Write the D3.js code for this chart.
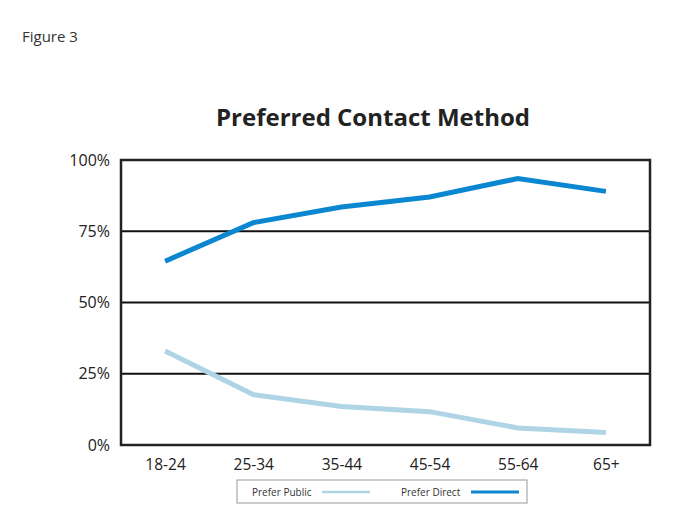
<!DOCTYPE html>
<html>
<head>
<meta charset="utf-8">
<script src="https://cdn.jsdelivr.net/npm/d3@7"></script>
<style>
  body { margin: 0; background: #fff; }
  svg { display: block; }
</style>
</head>
<body>
<svg id="chart"></svg>
<script>
// data
const ageGroups = ["18-24", "25-34", "35-44", "45-54", "55-64", "65+"];
const preferDirect = [64.5, 78, 83.5, 87, 93.5, 89];
const preferPublic = [33, 17.7, 13.5, 11.7, 6, 4.4];
const yTicks = [0, 25, 50, 75, 100];

const width = 675, height = 522;
const margin = { top: 160, right: 25, bottom: 77, left: 121 };

const svg = d3.select("#chart").attr("width", width).attr("height", height);
const font = "'Open Sans', 'DejaVu Sans', sans-serif";

const x = d3.scalePoint().domain(ageGroups)
    .range([margin.left, width - margin.right]).padding(0.5);
const y = d3.scaleLinear().domain([0, 100])
    .range([height - margin.bottom, margin.top]);

// figure label
svg.append("text")
    .attr("x", 22).attr("y", 42)
    .attr("font-family", font).attr("font-size", 15)
    .attr("fill", "#333")
    .text("Figure 3");

// title
svg.append("text")
    .attr("x", 373).attr("y", 126)
    .attr("text-anchor", "middle")
    .attr("font-family", font).attr("font-size", 24).attr("font-weight", "bold")
    .attr("fill", "#222")
    .text("Preferred Contact Method");

// horizontal gridlines
svg.append("g")
    .selectAll("line")
    .data(yTicks.filter(d => d > 0 && d < 100))
    .join("line")
    .attr("x1", margin.left).attr("x2", width - margin.right)
    .attr("y1", d => y(d)).attr("y2", d => y(d))
    .attr("stroke", "#111").attr("stroke-width", 2);

// frame
svg.append("rect")
    .attr("x", margin.left).attr("y", margin.top)
    .attr("width", width - margin.left - margin.right)
    .attr("height", height - margin.top - margin.bottom)
    .attr("fill", "none").attr("stroke", "#222").attr("stroke-width", 2.5);

// y axis labels
const yAxis = d3.axisLeft(y).tickValues(yTicks).tickSize(0).tickPadding(11)
    .tickFormat(d => d + "%");
svg.append("g")
    .attr("transform", `translate(${margin.left},0)`)
    .call(yAxis)
    .call(g => g.select(".domain").remove())
    .call(g => g.selectAll("text")
        .attr("font-family", font).attr("font-size", 16).attr("fill", "#222"));

// x axis labels
const xAxis = d3.axisBottom(x).tickSize(0).tickPadding(14);
svg.append("g")
    .attr("transform", `translate(0,${height - margin.bottom})`)
    .call(xAxis)
    .call(g => g.select(".domain").remove())
    .call(g => g.selectAll("text")
        .attr("font-family", font).attr("font-size", 15.5).attr("fill", "#222"));

// lines
const series = [
    { name: "Prefer Public", values: preferPublic, color: "#aed4e6" },
    { name: "Prefer Direct", values: preferDirect, color: "#0a87d0" }
];

const line = d3.line()
    .x((d, i) => x(ageGroups[i]))
    .y(d => y(d));

svg.append("g")
    .selectAll("path")
    .data(series)
    .join("path")
    .attr("d", d => line(d.values))
    .attr("fill", "none")
    .attr("stroke", d => d.color)
    .attr("stroke-width", 5);

// legend
const legend = svg.append("g").attr("transform", "translate(237,480)");
legend.append("rect")
    .attr("width", 290).attr("height", 23)
    .attr("fill", "#fff").attr("stroke", "#999").attr("stroke-width", 1);

const items = legend.selectAll("g.item")
    .data(series)
    .join("g")
    .attr("class", "item")
    .attr("transform", (d, i) => `translate(${15 + i * 149},0)`);
items.append("text")
    .attr("x", 0).attr("y", 15.5)
    .attr("font-family", font).attr("font-size", 10).attr("fill", "#333")
    .text(d => d.name);
items.append("line")
    .attr("x1", 70).attr("x2", 118)
    .attr("y1", 12).attr("y2", 12)
    .attr("stroke", d => d.color).attr("stroke-width", d => d.name === "Prefer Direct" ? 3 : 2.5);
</script>
</body>
</html>
